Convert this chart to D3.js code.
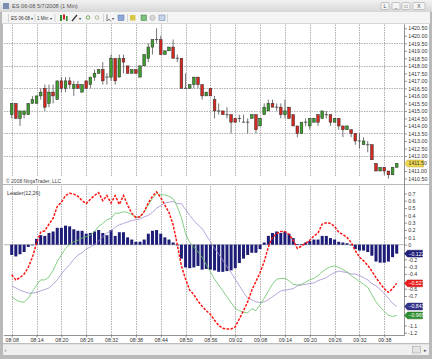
<!DOCTYPE html>
<html><head><meta charset="utf-8">
<script src="https://cdn.jsdelivr.net/npm/d3@7"></script>
<style>
body{margin:0;background:#fff;}
svg{display:block;font-family:"Liberation Sans",Arial,sans-serif;}
</style>
</head><body>
<svg id="c" width="432" height="359"></svg>
<script>
// ---------------- DATA ----------------
const titleText = "ES 06-08  5/7/2008 (1 Min)";
const instrument = "ES 06-08";
const period = "1 Min";
const startTime = "08:08";
const indicatorName = "Leader(12,26)";
const copyright = "\u00A9 2008 NinjaTrader, LLC";

const open  = [1414.75,1415.5,1414.5,1414.75,1414.75,1415.5,1415.5,1416.0,1416.5,1415.5,1416.25,1415.75,1417.0,1416.5,1417.0,1416.5,1416.75,1416.25,1417.0,1416.75,1417.25,1417.5,1417.75,1417.25,1417.25,1418.5,1417.25,1418.5,1418.0,1417.5,1417.75,1417.25,1418.0,1418.5,1419.25,1419.75,1419.75,1418.75,1419.0,1419.25,1418.5,1418.5,1416.5,1416.5,1416.75,1417.25,1416.75,1416.0,1416.5,1415.75,1415.0,1415.0,1414.75,1414.75,1414.5,1414.5,1414.25,1414.25,1414.5,1414.75,1414.0,1414.75,1415.0,1415.5,1415.25,1415.25,1414.75,1415.25,1414.75,1414.0,1413.5,1414.25,1414.0,1414.25,1414.75,1414.5,1414.75,1414.75,1414.25,1414.5,1414.0,1413.75,1413.75,1413.5,1413.0,1412.75,1412.75,1412.75,1411.5,1411.0,1411.25,1411.0,1410.75,1411.25];
const high  = [1415.5,1415.5,1415.0,1415.0,1415.5,1416.0,1416.0,1416.5,1416.75,1416.75,1416.75,1417.0,1417.25,1417.25,1417.25,1417.0,1417.0,1416.75,1417.0,1417.25,1417.75,1417.75,1418.25,1417.5,1418.75,1418.5,1418.75,1418.75,1418.0,1417.75,1417.75,1418.0,1418.75,1419.5,1419.75,1420.5,1420.0,1419.0,1419.25,1419.75,1418.75,1418.5,1417.5,1416.75,1417.25,1417.25,1416.75,1416.25,1416.5,1416.0,1415.5,1415.0,1415.25,1414.75,1414.5,1414.75,1414.75,1414.5,1414.75,1414.75,1414.5,1415.5,1415.75,1415.75,1415.5,1415.5,1415.75,1415.25,1414.75,1414.0,1414.25,1414.5,1414.5,1414.5,1414.75,1415.0,1415.0,1414.75,1414.5,1414.5,1414.0,1414.0,1413.75,1413.5,1413.5,1413.25,1413.0,1412.75,1411.5,1411.25,1411.25,1411.0,1411.25,1411.5];
const low   = [1414.5,1414.5,1414.0,1414.5,1414.75,1415.5,1415.5,1415.75,1415.0,1415.25,1415.5,1415.75,1416.25,1416.25,1416.5,1416.0,1416.5,1416.25,1416.5,1416.5,1417.0,1417.5,1416.75,1416.75,1417.0,1416.75,1417.25,1417.5,1417.5,1417.5,1417.5,1417.25,1418.0,1418.25,1418.75,1419.5,1418.75,1418.75,1419.0,1418.5,1418.25,1416.5,1416.5,1416.5,1416.5,1416.5,1415.75,1416.0,1416.0,1414.5,1414.75,1414.75,1414.5,1413.5,1414.25,1414.25,1414.25,1413.5,1414.5,1413.5,1414.0,1414.75,1415.0,1415.25,1415.0,1414.5,1414.5,1414.5,1414.0,1413.25,1413.5,1414.0,1413.75,1414.25,1414.0,1414.5,1414.5,1414.0,1414.25,1413.75,1413.25,1413.75,1413.25,1412.75,1412.5,1412.75,1412.25,1411.75,1411.0,1411.0,1410.75,1410.5,1410.75,1411.25];
const close = [1415.5,1414.5,1415.0,1415.0,1415.5,1415.75,1416.0,1416.25,1415.25,1416.25,1416.0,1417.0,1416.5,1417.0,1416.75,1416.75,1416.5,1416.75,1416.5,1417.25,1417.5,1417.75,1417.0,1417.25,1418.5,1417.0,1418.5,1418.25,1417.5,1417.75,1417.5,1418.0,1418.75,1419.25,1419.75,1419.75,1418.75,1419.0,1419.25,1418.5,1418.5,1416.5,1416.5,1416.75,1417.25,1416.75,1416.0,1416.25,1416.0,1415.0,1415.0,1414.75,1414.75,1414.25,1414.25,1414.5,1414.25,1414.25,1414.75,1413.75,1414.5,1415.25,1415.5,1415.25,1415.25,1414.75,1415.0,1414.5,1414.0,1413.5,1414.25,1414.25,1414.5,1414.5,1414.25,1415.0,1414.75,1414.25,1414.5,1414.0,1413.75,1414.0,1413.5,1413.0,1413.0,1413.0,1412.75,1411.75,1411.0,1411.25,1411.0,1410.75,1411.25,1411.5];

// Leader indicator plots
const leaderLine = [-0.41,-0.48,-0.45,-0.40,-0.31,-0.17,0.02,0.17,0.19,0.28,0.36,0.52,0.58,0.67,0.70,0.69,0.66,0.60,0.56,0.62,0.67,0.71,0.60,0.67,0.57,0.67,0.55,0.67,0.54,0.43,0.37,0.38,0.45,0.57,0.66,0.72,0.64,0.54,0.44,0.27,0.00,-0.29,-0.47,-0.62,-0.68,-0.77,
  -0.84,-0.90,-0.95,-1.03,-1.10,-1.14,-1.15,-1.15,-1.12,-1.01,-0.90,-0.78,-0.62,-0.50,-0.38,-0.23,-0.03,0.10,0.15,0.18,0.18,0.14,0.06,-0.05,-0.02,0.02,0.06,0.12,0.16,0.28,0.30,0.29,0.25,0.17,0.14,0.10,0.03,-0.08,-0.17,-0.22,-0.28,-0.36,-0.45,-0.53,-0.60,-0.65,-0.60,-0.527];
const fastLine = [-0.71,-0.75,-0.78,-0.78,-0.73,-0.64,-0.55,-0.48,-0.48,-0.44,-0.35,-0.23,-0.14,-0.05,0.0,0.04,0.06,0.09,0.11,0.13,0.18,0.25,0.29,0.34,0.36,0.43,0.43,0.45,0.44,0.41,0.37,0.38,0.45,0.54,0.63,0.70,0.68,0.68,0.66,0.63,0.52,
  0.37,0.15,0.03,-0.03,-0.10,-0.17,-0.27,-0.37,-0.47,-0.55,-0.63,-0.71,-0.79,-0.87,-0.90,-0.92,-0.93,-0.87,-0.90,-0.82,-0.73,-0.63,-0.54,-0.47,-0.46,-0.46,-0.49,-0.54,-0.55,-0.54,-0.51,-0.48,-0.46,-0.42,-0.37,-0.33,-0.30,-0.29,-0.31,-0.34,-0.37,-0.42,-0.46,-0.50,-0.54,-0.58,-0.68,-0.78,-0.85,-0.91,-0.96,-0.98,-0.965];
const slowLine = [-0.56,-0.59,-0.62,-0.64,-0.66,-0.66,-0.65,-0.63,-0.61,-0.59,-0.54,-0.48,-0.40,-0.33,-0.27,-0.20,-0.14,-0.11,-0.06,-0.03,0.0,0.05,0.11,0.16,0.19,0.24,0.27,0.29,0.31,0.33,0.34,0.35,0.38,0.40,0.44,0.50,0.53,0.57,0.58,0.59,0.56,
  0.56,0.48,0.40,0.33,0.27,0.22,0.13,0.04,-0.05,-0.13,-0.21,-0.30,-0.38,-0.47,-0.56,-0.65,-0.73,-0.75,-0.78,-0.79,-0.78,-0.75,-0.71,-0.67,-0.63,-0.62,-0.61,-0.60,-0.56,-0.55,-0.54,-0.53,-0.52,-0.49,-0.47,-0.45,-0.41,-0.38,-0.36,-0.37,-0.38,-0.40,-0.40,-0.42,-0.45,-0.48,-0.53,-0.56,-0.61,-0.67,-0.73,-0.80,-0.843];
const histogram = [-0.14,-0.16,-0.13,-0.10,-0.03,0.0,0.08,0.13,0.12,0.16,0.18,0.23,0.23,0.26,0.25,0.21,0.19,0.19,0.15,0.16,0.18,0.20,0.16,0.13,0.20,0.12,0.17,0.17,0.10,0.07,0.04,0.04,0.07,0.15,0.19,0.20,0.15,0.10,0.07,0.03,-0.01,-0.19,-0.31,-0.32,-0.31,-0.29,
  -0.34,-0.33,-0.34,-0.35,-0.37,-0.37,-0.36,-0.35,-0.32,-0.25,-0.19,-0.14,-0.11,-0.11,-0.06,0.03,0.12,0.16,0.18,0.16,0.18,0.15,0.09,0.01,0.01,0.03,0.05,0.07,0.07,0.12,0.12,0.09,0.07,0.04,0.03,0.02,-0.01,-0.06,-0.08,-0.08,-0.10,-0.15,-0.23,-0.245,-0.245,-0.23,-0.17,-0.122];

const timeTicks = ["08:08","08:14","08:20","08:26","08:32","08:38","08:44","08:50","08:56","09:02","09:08","09:14","09:20","09:26","09:32","09:38"];
const priceTicks = [1410.5,1411,1411.5,1412,1412.5,1413,1413.5,1414,1414.5,1415,1415.5,1416,1416.5,1417,1417.5,1418,1418.5,1419,1419.5,1420,1420.5];
const priceGrid = [1412,1413.5,1415,1416.5,1418,1419.5];
const indTicks = [0.7,0.6,0.5,0.4,0.3,0.2,0.1,0,-0.1,-0.2,-0.3,-0.4,-0.5,-0.6,-0.7,-0.8,-0.9,-1,-1.1,-1.2];

// ---------------- LAYOUT ----------------
const svg = d3.select("#c");
const W = 432, H = 359;
const axisX = 404.5;
const parseT = d3.timeParse("%H:%M");
const t0 = parseT(startTime);
const n = close.length;
const times = d3.range(n).map(i => d3.timeMinute.offset(t0, i));
const x = d3.scaleTime().domain([t0, times[n-1]]).range([11.7, 396.7]);
const yP = d3.scaleLinear().domain([1419.5, 1412]).range([43.3, 156]);
const yI = d3.scaleLinear().domain([0, -1.2]).range([244.7, 332.7]);
const priceTop = 24.5, priceBot = 177, indTop = 186, indBot = 335;

// window frame
svg.append("rect").attr("width",W).attr("height",H).attr("fill","#b9b9b9");
const defs = svg.append("defs");
const g1 = defs.append("linearGradient").attr("id","tb").attr("x1",0).attr("y1",0).attr("x2",0).attr("y2",1);
g1.append("stop").attr("offset","0%").attr("stop-color","#f2f2f2");
g1.append("stop").attr("offset","100%").attr("stop-color","#d6d6d6");
svg.append("rect").attr("x",0).attr("y",0).attr("width",W).attr("height",12).attr("fill","url(#tb)");
svg.append("rect").attr("x",3).attr("y",3).attr("width",6).attr("height",6).attr("fill","#7a8fb0");
svg.append("text").attr("x",12).attr("y",8.3).attr("font-size",5.6).attr("fill","#555").text(titleText);
// title buttons
[[381,8,"L"],[392,8,"_"],[402,8,"\u25A1"],[413,12,"X"]].forEach(([bx,bw,gl])=>{
  svg.append("rect").attr("x",bx).attr("y",2.5).attr("width",bw).attr("height",7).attr("rx",1)
    .attr("fill","#f4f4f4").attr("stroke","#9a9a9a").attr("stroke-width",0.5);
  svg.append("text").attr("x",bx+bw/2).attr("y",8).attr("text-anchor","middle").attr("font-size",5).attr("fill","#444").text(gl);
});
// toolbar
svg.append("rect").attr("x",2).attr("y",12).attr("width",W-4).attr("height",12).attr("fill","#f4f4f4");
svg.append("line").attr("x1",2).attr("x2",W-2).attr("y1",23.5).attr("y2",23.5).attr("stroke","#c4c4c4").attr("stroke-width",0.6);
const tb = svg.append("g").attr("font-size",4.6).attr("fill","#333");
tb.append("text").attr("x",11).attr("y",19.6).text(instrument);
tb.append("text").attr("x",30.5).attr("y",19.6).attr("font-size",3.8).text("\u25BE");
tb.append("text").attr("x",37).attr("y",19.6).text(period);
tb.append("text").attr("x",50).attr("y",19.6).attr("font-size",3.8).text("\u25BE");
[[8.5],[35],[55],[103.5],[127.5],[167.5]].forEach(([sx])=>{
  svg.append("line").attr("x1",sx).attr("x2",sx).attr("y1",14).attr("y2",22).attr("stroke","#bdbdbd").attr("stroke-width",0.6);
});
// toolbar icons
svg.append("rect").attr("x",60).attr("y",15).attr("width",2).attr("height",6).attr("fill","#2e8b2e");
svg.append("rect").attr("x",63).attr("y",14.5).attr("width",2).attr("height",5).attr("fill","#cc2222");
svg.append("rect").attr("x",66).attr("y",16).attr("width",1.6).attr("height",5).attr("fill","#2e8b2e");
svg.append("line").attr("x1",72).attr("y1",21).attr("x2",77).attr("y2",15).attr("stroke","#333").attr("stroke-width",1.2);
svg.append("text").attr("x",79).attr("y",19.6).attr("font-size",3.8).attr("fill","#333").text("\u25BE");
svg.append("circle").attr("cx",88).attr("cy",17.5).attr("r",1.8).attr("fill","none").attr("stroke","#5a9a3a").attr("stroke-width",0.8);
svg.append("circle").attr("cx",97).attr("cy",17.5).attr("r",1.8).attr("fill","none").attr("stroke","#9ab08a").attr("stroke-width",0.8);
svg.append("path").attr("d","M107,14.5 L107,21 L109,19 L111,21.5").attr("fill","none").attr("stroke","#555").attr("stroke-width",0.7);
svg.append("text").attr("x",111.5).attr("y",19.6).attr("font-size",3.8).attr("fill","#333").text("\u25BE");
svg.append("rect").attr("x",118).attr("y",15).attr("width",6).attr("height",5.5).attr("fill","#8fa8d8").attr("stroke","#5670a8").attr("stroke-width",0.5);
svg.append("rect").attr("x",130).attr("y",15).attr("width",5.5).attr("height",5.5).attr("fill","#d8c848");
svg.append("rect").attr("x",141).attr("y",15).attr("width",5.5).attr("height",5.5).attr("fill","#7cc07c").attr("stroke","#3a7a3a").attr("stroke-width",0.5);
svg.append("circle").attr("cx",152.5).attr("cy",17.8).attr("r",2.6).attr("fill","#d8d8d8").attr("stroke","#9a9a9a").attr("stroke-width",0.5);
svg.append("rect").attr("x",159).attr("y",15).attr("width",6).attr("height",5.5).attr("fill","#c8d4e8").attr("stroke","#6a7ea8").attr("stroke-width",0.5);

// chart background
svg.append("rect").attr("x",3).attr("y",24).attr("width",W-6).attr("height",319).attr("fill","#ffffff");
// bottom scrollbar
svg.append("rect").attr("x",3).attr("y",344).attr("width",W-6).attr("height",11).attr("fill","#efefef");
svg.append("line").attr("x1",3).attr("x2",W-3).attr("y1",344).attr("y2",344).attr("stroke","#c8c8c8").attr("stroke-width",0.6);
svg.append("text").attr("x",4.5).attr("y",351.5).attr("font-size",5.5).attr("fill","#555").text("\u2039");
svg.append("rect").attr("x",412.5).attr("y",346.5).attr("width",8).attr("height",6.5).attr("fill","#e4e4e4").attr("stroke","#999").attr("stroke-width",0.5);
svg.append("text").attr("x",424).attr("y",351.8).attr("font-size",4.5).attr("fill","#555").text("\u25B8");

// ---------------- GRID ----------------
const grid = svg.append("g").attr("stroke","#7c7c7c").attr("stroke-width",0.6).attr("stroke-dasharray","1.5,1");
const tickTimes = timeTicks.map(parseT);
tickTimes.forEach(t => {
  const gx = Math.round(x(t)) + 0.5;
  grid.append("line").attr("x1",gx).attr("x2",gx).attr("y1",priceTop).attr("y2",priceBot);
  grid.append("line").attr("x1",gx).attr("x2",gx).attr("y1",indTop).attr("y2",indBot);
});
priceGrid.forEach(p => {
  const gy = Math.round(yP(p)) + 0.5;
  grid.append("line").attr("x1",4).attr("x2",axisX).attr("y1",gy).attr("y2",gy);
});
// panel separator
svg.append("line").attr("x1",3).attr("x2",W-3).attr("y1",184.5).attr("y2",184.5).attr("stroke","#9a9a9a").attr("stroke-width",0.7);
// zero line
svg.append("line").attr("x1",4).attr("x2",axisX).attr("y1",yI(0)).attr("y2",yI(0)).attr("stroke","#8a8a8a").attr("stroke-width",0.6);

// ---------------- CANDLES ----------------
const bw = 2.7;
const cg = svg.append("g");
d3.range(n).forEach(i => {
  const cx = x(times[i]);
  cg.append("line").attr("x1",cx).attr("x2",cx).attr("y1",yP(high[i])).attr("y2",yP(low[i]))
    .attr("stroke","#3a3a3a").attr("stroke-width",0.7);
  const o = open[i], c = close[i];
  if (o === c) {
    cg.append("line").attr("x1",cx-bw/2-0.3).attr("x2",cx+bw/2+0.3).attr("y1",yP(o)).attr("y2",yP(o))
      .attr("stroke","#3a3a3a").attr("stroke-width",0.8);
  } else {
    const top = yP(Math.max(o,c)), bot = yP(Math.min(o,c));
    cg.append("rect").attr("x",cx-bw/2).attr("y",top).attr("width",bw).attr("height",bot-top)
      .attr("fill", c > o ? "#3c9c2c" : "#d42820").attr("stroke","#2a2a2a").attr("stroke-width",0.5);
  }
});

// ---------------- INDICATOR ----------------
const ig = svg.append("g");
d3.range(n).forEach(i => {
  const v = histogram[i];
  const y0 = yI(0), y1 = yI(v);
  ig.append("rect").attr("x",x(times[i])-1.5).attr("width",3)
    .attr("y",Math.min(y0,y1)).attr("height",Math.max(0.6,Math.abs(y1-y0)))
    .attr("fill","#1d1d78");
});
const lineGen = arr => d3.line().x((d,i)=>x(times[i])).y(d=>yI(d))(arr);
ig.append("path").attr("d",lineGen(slowLine)).attr("fill","none").attr("stroke","#a48ed2").attr("stroke-width",0.8);
ig.append("path").attr("d",lineGen(fastLine)).attr("fill","none").attr("stroke","#66c266").attr("stroke-width",0.8);
ig.append("path").attr("d",lineGen(leaderLine)).attr("fill","none").attr("stroke","#ff1414").attr("stroke-width",1.5)
  .attr("stroke-dasharray","2.6,1.4");

// ---------------- AXES ----------------
svg.append("line").attr("x1",axisX).attr("x2",axisX).attr("y1",24.5).attr("y2",335.5).attr("stroke","#666").attr("stroke-width",0.7);

const priceBox = close[n-1];
const pAxis = d3.axisRight(yP).tickValues(priceTicks.filter(p => Math.abs(yP(p)-yP(priceBox))>4))
  .tickFormat(d3.format(".2f")).tickSize(2.5).tickPadding(1.2);
const pa = svg.append("g").attr("transform",`translate(${axisX},0)`).call(pAxis);
pa.select(".domain").remove();
pa.selectAll("line").attr("stroke","#555").attr("stroke-width",0.6);
pa.selectAll("text").attr("font-size",5.3).attr("fill","#333").attr("font-family","Liberation Sans, Arial, sans-serif");

const boxes = [
  {v: histogram[n-1], fill:"#1f1f7a", txt:"#fff"},
  {v: leaderLine[n-1], fill:"#ee1c1c", txt:"#fff"},
  {v: slowLine[n-1], fill:"#34348c", txt:"#fff"},
  {v: fastLine[n-1], fill:"#2f8f2f", txt:"#fff"}
];
const iAxis = d3.axisRight(yI)
  .tickValues(indTicks.filter(t => boxes.every(b => Math.abs(yI(t)-yI(b.v))>=5)))
  .tickFormat(d => String(+d.toFixed(1))).tickSize(2.5).tickPadding(1.2);
const ia = svg.append("g").attr("transform",`translate(${axisX},0)`).call(iAxis);
ia.select(".domain").remove();
ia.selectAll("line").attr("stroke","#555").attr("stroke-width",0.6);
ia.selectAll("text").attr("font-size",5.3).attr("fill","#333").attr("font-family","Liberation Sans, Arial, sans-serif");

function tag(yv, fill, txtColor, label, w) {
  const g = svg.append("g");
  g.append("path").attr("d",`M${axisX},${yv} L${axisX+3},${yv-3.4} L${axisX+3+w},${yv-3.4} L${axisX+3+w},${yv+3.4} L${axisX+3},${yv+3.4} Z`)
    .attr("fill",fill).attr("stroke", d3.color(fill).darker(0.8)).attr("stroke-width",0.5);
  g.append("text").attr("x",axisX+4).attr("y",yv+1.9).attr("font-size",5.2).attr("fill",txtColor).text(label);
}
tag(yP(priceBox), "#efd94e", "#333", d3.format(".2f")(priceBox), 16);
boxes.forEach(b => tag(yI(b.v), b.fill, b.txt, d3.format(".3f")(b.v), 15));

// x axis
svg.append("line").attr("x1",4).attr("x2",axisX).attr("y1",335.5).attr("y2",335.5).attr("stroke","#666").attr("stroke-width",0.7);
const xAxis = d3.axisBottom(x).tickValues(tickTimes).tickFormat(d3.timeFormat("%H:%M")).tickSize(2).tickPadding(0.8);
const xa = svg.append("g").attr("transform","translate(0,335.5)").call(xAxis);
xa.select(".domain").remove();
xa.selectAll("line").attr("stroke","#555").attr("stroke-width",0.6);
xa.selectAll("text").attr("font-size",5.3).attr("fill","#333").attr("font-family","Liberation Sans, Arial, sans-serif");

// texts
svg.append("text").attr("x",6).attr("y",182.6).attr("font-size",5).attr("fill","#444").text(copyright);
svg.append("text").attr("x",7).attr("y",194.6).attr("font-size",5.3).attr("fill","#333").text(indicatorName);
</script>
</body></html>
